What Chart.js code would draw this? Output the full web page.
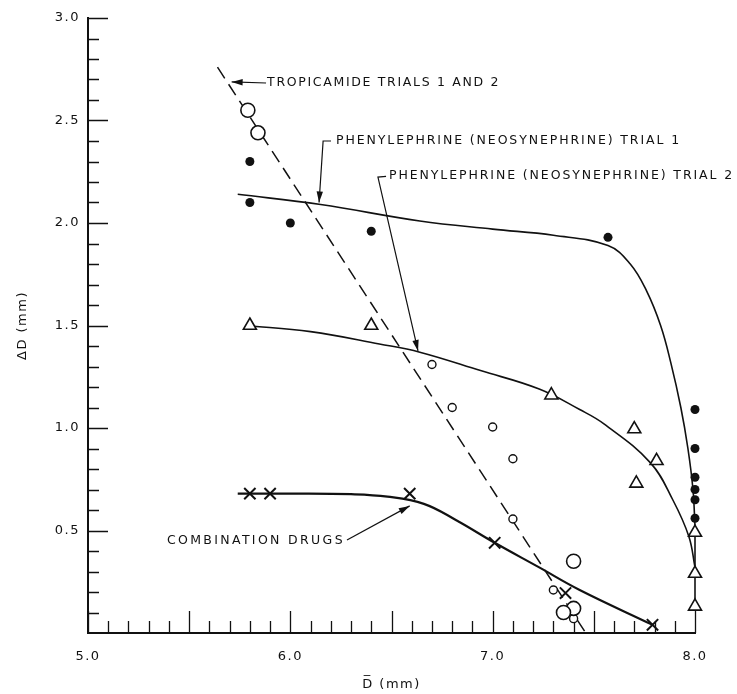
<!DOCTYPE html>
<html>
<head>
<meta charset="utf-8">
<script src="https://cdn.jsdelivr.net/npm/chart.js@4"></script>
<style>
  body { margin: 0; background: #fff; }
  #wrap { width: 737px; height: 694px; }
</style>
</head>
<body>
<div id="wrap"><canvas id="myChart"></canvas></div>
<script>
// tick labels
let xTickLabels = ['5.0', '6.0', '7.0', '8.0'];
let yTickLabels = ['0.5', '1.0', '1.5', '2.0', '2.5', '3.0'];

// phenylephrine trial 1 (filled dots) and its fitted curve
let xTrial1Dots = [5.80, 5.80, 6.00, 6.40, 7.57, 8.00, 8.00, 8.00, 8.00, 8.00, 8.00];
let yTrial1Dots = [2.30, 2.10, 2.00, 1.96, 1.93, 1.09, 0.90, 0.76, 0.70, 0.65, 0.56];
let xTrial1Curve = [5.74, 6.15, 6.64, 7.00, 7.30, 7.57, 7.68, 7.76, 7.83, 7.88, 7.93, 7.965, 7.99, 8.00];
let yTrial1Curve = [2.14, 2.09, 2.01, 1.97, 1.94, 1.89, 1.80, 1.67, 1.50, 1.32, 1.10, 0.90, 0.70, 0.52];
let xTrial1Drop = [8.00, 8.00];
let yTrial1Drop = [0.52, 0.13];

// phenylephrine trial 2 (open triangles) and its fitted curve
let xTrial2Tri = [5.80, 6.40, 7.29, 7.70, 7.81, 7.71, 8.00, 8.00, 8.00];
let yTrial2Tri = [1.50, 1.50, 1.16, 0.995, 0.84, 0.73, 0.49, 0.29, 0.13];
let xTrial2Curve = [5.78, 6.10, 6.44, 6.64, 6.94, 7.23, 7.43, 7.55, 7.78, 7.89, 7.97, 8.00];
let yTrial2Curve = [1.50, 1.47, 1.41, 1.37, 1.28, 1.19, 1.09, 1.02, 0.83, 0.65, 0.47, 0.32];

// tropicamide trials 1 and 2 (open circles) and the dashed fit
let xTropBig = [5.79, 5.84, 7.40, 7.40, 7.35];
let yTropBig = [2.55, 2.44, 0.35, 0.12, 0.10];
let xTropSmall = [6.70, 6.80, 7.00, 7.10, 7.10, 7.30, 7.40];
let yTropSmall = [1.31, 1.10, 1.005, 0.85, 0.556, 0.21, 0.07];
let xTropLine = [5.64, 7.46];
let yTropLine = [2.76, 0.00];

// combination drugs (crosses) and curve
let xCombo = [5.80, 5.90, 6.59, 7.01, 7.36, 7.79];
let yCombo = [0.68, 0.68, 0.68, 0.44, 0.195, 0.04];
let xComboCurve = [5.74, 6.00, 6.30, 6.48, 6.66, 6.82, 7.01, 7.23, 7.43, 7.79];
let yComboCurve = [0.68, 0.68, 0.677, 0.665, 0.63, 0.55, 0.44, 0.32, 0.21, 0.04];

function pts(xs, ys) {
  return xs.map((x, i) => ({ x: x, y: ys[i] }));
}

let FONT = '"DejaVu Sans", sans-serif';

// callouts, anchored in data units
let notes = [
  { text: 'TROPICAMIDE TRIALS 1 AND 2', x: 5.885, y: 2.683, w: 233,
    path: [[5.88, 2.683], [5.71, 2.688]] },
  { text: 'PHENYLEPHRINE (NEOSYNEPHRINE) TRIAL 1', x: 6.226, y: 2.40, w: 345,
    path: [[6.201, 2.40], [6.162, 2.40], [6.142, 2.10]] },
  { text: 'PHENYLEPHRINE (NEOSYNEPHRINE) TRIAL 2', x: 6.488, y: 2.229, w: 345,
    path: [[6.473, 2.227], [6.433, 2.224], [6.631, 1.376]] },
  { text: 'COMBINATION DRUGS', x: 5.39, y: 0.449, w: 178,
    path: [[6.28, 0.454], [6.59, 0.62]] }
];

function isMajor(v) {
  return Math.abs(v * 2 - Math.round(v * 2)) < 1e-6;
}

let inwardTicks = {
  id: 'inwardTicks',
  beforeDatasetsDraw(chart) {
    let ctx = chart.ctx, a = chart.chartArea;
    let xs = chart.scales.x, ys = chart.scales.y;
    ctx.save();
    ctx.strokeStyle = '#111';
    ctx.lineWidth = 1.3;
    ctx.beginPath();
    xs.ticks.forEach(t => {
      let px = Math.round(xs.getPixelForValue(t.value)) + 0.5;
      let len = isMajor(t.value) ? 22 : 12;
      ctx.moveTo(px, a.bottom);
      ctx.lineTo(px, a.bottom - len);
    });
    ys.ticks.forEach(t => {
      if (t.value === 0) return;
      let py = Math.round(ys.getPixelForValue(t.value)) + 0.5;
      let len = isMajor(t.value) ? 20 : 11;
      ctx.moveTo(a.left, py);
      ctx.lineTo(a.left + len, py);
    });
    ctx.stroke();
    ctx.restore();
  }
};

function arrowHead(ctx, x1, y1, x2, y2) {
  let ang = Math.atan2(y2 - y1, x2 - x1);
  let L = 11, W = 3.2;
  ctx.beginPath();
  ctx.moveTo(x2, y2);
  ctx.lineTo(x2 - L * Math.cos(ang) + W * Math.sin(ang), y2 - L * Math.sin(ang) - W * Math.cos(ang));
  ctx.lineTo(x2 - L * Math.cos(ang) - W * Math.sin(ang), y2 - L * Math.sin(ang) + W * Math.cos(ang));
  ctx.closePath();
  ctx.fill();
}

let callouts = {
  id: 'callouts',
  afterDatasetsDraw(chart) {
    let ctx = chart.ctx;
    let xs = chart.scales.x, ys = chart.scales.y;
    ctx.save();
    ctx.fillStyle = '#111';
    ctx.strokeStyle = '#111';
    ctx.lineWidth = 1.2;
    ctx.font = '12.5px ' + FONT;
    ctx.textBaseline = 'middle';
    ctx.textAlign = 'left';
    notes.forEach(n => {
      ctx.letterSpacing = '0px';
      let w = ctx.measureText(n.text).width;
      ctx.letterSpacing = ((n.w - w) / n.text.length) + 'px';
      ctx.fillText(n.text, xs.getPixelForValue(n.x), ys.getPixelForValue(n.y));
      ctx.letterSpacing = '0px';
      let p = n.path.map(q => [xs.getPixelForValue(q[0]), ys.getPixelForValue(q[1])]);
      ctx.beginPath();
      ctx.moveTo(p[0][0], p[0][1]);
      for (let i = 1; i < p.length; i++) ctx.lineTo(p[i][0], p[i][1]);
      ctx.stroke();
      let k = p.length - 1;
      arrowHead(ctx, p[k - 1][0], p[k - 1][1], p[k][0], p[k][1]);
    });
    ctx.restore();
  }
};

let spacedLabels = {
  id: 'spacedLabels',
  beforeDraw(chart) { chart.ctx.letterSpacing = '1.5px'; },
  afterDraw(chart) { chart.ctx.letterSpacing = '0px'; }
};

function curve(label, xs, ys, width, dash) {
  return {
    label: label,
    data: pts(xs, ys),
    showLine: true,
    borderColor: '#111',
    borderWidth: width,
    borderDash: dash || [],
    pointRadius: 0,
    tension: 0.4,
    clip: false,
    order: 2
  };
}

function marks(label, xs, ys, style, radius, fill, width) {
  return {
    label: label,
    data: pts(xs, ys),
    showLine: false,
    pointStyle: style,
    pointRadius: radius,
    pointBackgroundColor: fill,
    pointBorderColor: '#111',
    pointBorderWidth: width,
    clip: false,
    order: 1
  };
}

let myChart = document.getElementById('myChart').getContext('2d');

let chart = new Chart(myChart, {
  type: 'scatter',
  data: {
    datasets: [
      curve('Tropicamide fit', xTropLine, yTropLine, 1.5, [13, 7]),
      curve('Trial 1 fit', xTrial1Curve, yTrial1Curve, 1.6),
      curve('Trial 1 drop', xTrial1Drop, yTrial1Drop, 1.6),
      curve('Trial 2 fit', xTrial2Curve, yTrial2Curve, 1.6),
      curve('Combination fit', xComboCurve, yComboCurve, 2.2),
      marks('Phenylephrine trial 1', xTrial1Dots, yTrial1Dots, 'circle', 4.5, '#111', 0),
      marks('Phenylephrine trial 2', xTrial2Tri, yTrial2Tri, 'triangle', 7.5, '#fff', 1.6),
      marks('Tropicamide (large)', xTropBig, yTropBig, 'circle', 7, '#fff', 1.6),
      marks('Tropicamide (small)', xTropSmall, yTropSmall, 'circle', 4, '#fff', 1.4),
      marks('Combination drugs', xCombo, yCombo, 'crossRot', 8, '#fff', 2)
    ]
  },
  options: {
    responsive: true,
    maintainAspectRatio: false,
    animation: false,
    events: [],
    layout: { padding: { top: 18, right: 42, bottom: 0, left: 0 } },
    plugins: {
      legend: { display: false },
      tooltip: { enabled: false }
    },
    scales: {
      x: {
        type: 'linear',
        min: 5,
        max: 8,
        afterFit: s => { s.height = 61; },
        grid: { display: false, drawTicks: false },
        border: { display: true, color: '#111', width: 2 },
        ticks: {
          stepSize: 0.1,
          autoSkip: false,
          maxRotation: 0,
          maxTicksLimit: 100,
          padding: 16,
          color: '#111',
          font: { family: FONT, size: 13 },
          callback: v => xTickLabels.includes(v.toFixed(1)) ? v.toFixed(1) : ''
        },
        title: {
          display: true,
          text: 'D\u0305 (mm)',
          color: '#111',
          font: { family: FONT, size: 13 },
          padding: { top: 0, bottom: 2 }
        }
      },
      y: {
        type: 'linear',
        min: 0,
        max: 3,
        afterFit: s => { s.width = 88; },
        grid: { display: false, drawTicks: false },
        border: { display: true, color: '#111', width: 2 },
        ticks: {
          stepSize: 0.1,
          autoSkip: false,
          maxTicksLimit: 100,
          padding: 8,
          color: '#111',
          font: { family: FONT, size: 13 },
          callback: v => yTickLabels.includes(v.toFixed(1)) ? v.toFixed(1) : ''
        },
        title: {
          display: true,
          text: '\u0394D (mm)',
          color: '#111',
          font: { family: FONT, size: 13 },
          padding: { top: 15, bottom: 0 }
        }
      }
    }
  },
  plugins: [spacedLabels, inwardTicks, callouts]
});
</script>
</body>
</html>
